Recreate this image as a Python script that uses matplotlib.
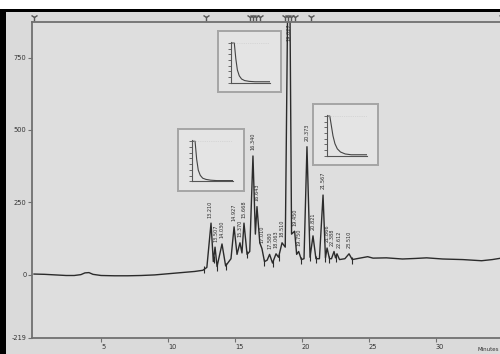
import matplotlib
matplotlib.use("Agg")
import matplotlib.pyplot as plt
from matplotlib.patches import Rectangle
import numpy as np

# chromatogram trace (minutes, signal)
trace_t = [0.0, 0.8, 1.6, 2.4, 3.0, 3.5, 3.8, 4.1, 4.4, 5.0, 6.0, 7.0, 8.0, 9.0,
           10.0, 11.0, 12.0, 12.6, 12.9, 13.21, 13.38, 13.51, 13.66, 14.03, 14.30,
           14.70, 14.93, 15.15, 15.37, 15.52, 15.67, 15.90, 16.10, 16.34, 16.52,
           16.64, 16.85, 17.01, 17.20, 17.40, 17.58, 17.80, 18.06, 18.25, 18.51,
           18.75, 19.03, 19.22, 19.45, 19.60, 19.75, 19.95, 20.15, 20.37, 20.60,
           20.82, 21.04, 21.30, 21.57, 21.75, 21.87, 22.05, 22.20, 22.39, 22.50,
           22.61, 22.80, 23.20, 23.51, 23.75, 24.20, 24.9, 25.3, 26.3, 27.5,
           28.5, 29.3, 30.5, 32.0, 33.4, 34.2, 35.0]
trace_v = [2, 1, -1, -3, -3, 0, 6, 7, 1, -3, -4, -4, -3, -1,
           3, 7, 11, 15, 25, 178, 45, 95, 28, 106, 30,
           55, 165, 70, 110, 75, 178, 70, 80, 410, 140,
           235, 110, 90, 45, 50, 70, 40, 72, 60, 110,
           95, 1400, 140, 150, 70, 80, 52, 55, 442, 60,
           134, 55, 55, 275, 58, 92, 55, 55, 80, 58,
           72, 52, 55, 72, 52, 56, 62, 57, 58, 54,
           56, 58, 54, 52, 48, 52, 58]

# labelled peaks
peak_t = [13.21, 13.51, 14.03, 14.93, 15.37, 15.67, 16.34, 16.64, 17.01, 17.58,
          18.06, 18.51, 19.45, 19.75, 20.37, 20.82, 21.57, 21.87, 22.39, 22.61, 23.51]
peak_v = [178, 95, 106, 165, 110, 178, 410, 235, 90, 70,
          72, 110, 150, 80, 442, 134, 275, 92, 80, 72, 72]
peak_lbl = ["13.210", "13.507", "14.030", "14.927", "15.370", "15.668", "16.340",
            "16.643", "17.010", "17.580", "18.063", "18.510", "19.450", "19.750",
            "20.373", "20.821", "21.567", "21.866", "22.388", "22.612", "23.510"]
big_t, big_lbl = 19.03, "19.027"

# integration marks on baseline
event_t = [12.7, 13.4, 13.66, 14.3, 15.9, 17.2, 17.8, 18.25, 19.95, 20.6,
           21.04, 21.75, 22.05, 22.5, 23.75]
# markers above the top axis
top_t = [0.0, 12.8, 16.1, 16.35, 16.6, 16.9, 18.7, 18.95, 19.2, 19.5, 20.7, 34.9]

yticks = [-219, 0, 250, 500, 750]
xticks = [5, 10, 15, 20, 25, 30]

# decay curves in the three small boxes
inset_x = [0, 0.6, 1.0, 1.4, 1.9, 2.5, 3.3, 4.5, 6.0, 10.0]
inset1_y = [1.0, 1.0, 0.55, 0.28, 0.15, 0.08, 0.05, 0.03, 0.02, 0.02]
inset2_y = [1.0, 1.0, 0.6, 0.32, 0.17, 0.09, 0.05, 0.03, 0.02, 0.02]
inset3_y = [1.0, 1.0, 0.75, 0.5, 0.3, 0.17, 0.09, 0.04, 0.02, 0.02]

bg = '#dadada'
axcol = '#707070'
ink = '#2b2b2b'

fig = plt.figure(figsize=(5, 3.54), dpi=100, facecolor=bg)
# frame: white strip on top, black rule and left band
fig.patches.append(Rectangle((0, 1 - 10 / 354), 1, 10 / 354, transform=fig.transFigure,
                             facecolor='white', edgecolor='none', zorder=-1))
fig.patches.append(Rectangle((0, 1 - 12 / 354), 1, 2.5 / 354, transform=fig.transFigure,
                             facecolor='black', edgecolor='none', zorder=-1))
fig.patches.append(Rectangle((0, 0), 6 / 500, 1 - 10 / 354, transform=fig.transFigure,
                             facecolor='black', edgecolor='none', zorder=-1))

ax = fig.add_axes([32 / 500, 16 / 354, 471 / 500, 316 / 354])
ax.set_facecolor('#dedede')
ax.plot(trace_t, trace_v, color=ink, lw=1.0)
ev_y = np.interp(event_t, trace_t, trace_v)
ax.vlines(event_t, ev_y - 14, ev_y + 10, color=ink, lw=0.8)

# small sideways nudges (points) so crowded labels do not sit on each other
nudge = {"22.388": -1.6, "22.612": 1.6, "13.210": -0.6, "13.507": 0.8}
for t, v, s in zip(peak_t, peak_v, peak_lbl):
    ax.annotate(s, (t, v), xytext=(nudge.get(s, 0), 4), textcoords='offset points',
                rotation=90, ha='center', va='bottom', fontsize=3.6, color=ink)
ax.text(big_t, 868, big_lbl, rotation=90, ha='center', va='top', fontsize=3.6,
        color=ink, clip_on=True)

ax.plot(top_t, [890] * len(top_t), ls='none', marker='1', ms=6, mew=1.0,
        color='#555555', clip_on=False)

ax.set_xlim(-0.15, 35.0)
ax.set_ylim(-219, 873)
for side in ['left', 'top', 'bottom']:
    ax.spines[side].set_color(axcol)
    ax.spines[side].set_linewidth(1.3)
ax.spines['right'].set_visible(False)
ax.set_yticks(yticks)
ax.set_yticklabels([str(v) for v in yticks])
ax.set_xticks(xticks)
ax.set_xticklabels([str(v) for v in xticks])
ax.tick_params(axis='both', colors=axcol, labelcolor='#333333', labelsize=4.8,
               length=3, width=0.8, pad=1)
for lab in ax.get_xticklabels():
    lab.set_ha('left')
fig.text(0.955, 0.008, 'Minutes', fontsize=4, color='#333333')


def decay_box(rect, ys):
    box = fig.add_axes(rect)
    box.set_facecolor('#e4e4e4')
    box.set_xticks([])
    box.set_yticks([])
    for sp in box.spines.values():
        sp.set_color('#a5a5a5')
        sp.set_linewidth(1.4)
    l, b, w, h = rect
    inner = fig.add_axes([l + 0.21 * w, b + 0.155 * h, 0.62 * w, 0.66 * h])
    inner.patch.set_alpha(0)
    inner.plot(inset_x, ys, color='#444444', lw=0.8)
    inner.axhline(1.0, color='#c8c8c8', lw=0.5, ls=':')
    inner.set_xlim(-0.2, 10)
    inner.set_ylim(0, 1.02)
    inner.set_xticks([])
    inner.set_yticks(np.linspace(0, 1, 8))
    inner.set_yticklabels([])
    inner.tick_params(axis='y', length=2, width=0.6, colors='#555555')
    for side in ['top', 'right']:
        inner.spines[side].set_visible(False)
    for side in ['left', 'bottom']:
        inner.spines[side].set_color('#555555')
        inner.spines[side].set_linewidth(0.8)


decay_box([178 / 500, 1 - 191 / 354, 66 / 500, 62 / 354], inset1_y)
decay_box([218 / 500, 1 - 92 / 354, 63 / 500, 61 / 354], inset2_y)
decay_box([313 / 500, 1 - 165 / 354, 65 / 500, 61 / 354], inset3_y)

fig.savefig('out.png', dpi=100, facecolor=fig.get_facecolor())
